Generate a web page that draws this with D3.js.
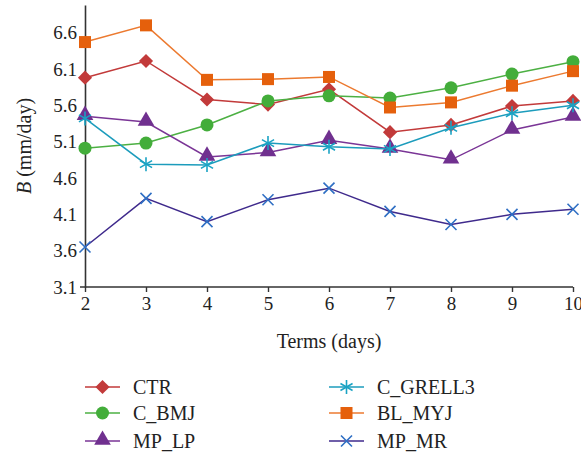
<!DOCTYPE html>
<html>
<head>
<meta charset="utf-8">
<script src="https://cdn.jsdelivr.net/npm/d3@7"></script>
<style>
  body { margin: 0; background: #fff; }
  text { font-family: "Liberation Serif", "DejaVu Serif", serif; fill: #222; }
</style>
</head>
<body>
<svg id="chart" width="581" height="453"></svg>
<script>
var terms = [2, 3, 4, 5, 6, 7, 8, 9, 10];
var yTicks = [3.1, 3.6, 4.1, 4.6, 5.1, 5.6, 6.1, 6.6];

var ctr     = [5.98, 6.21, 5.68, 5.61, 5.82, 5.23, 5.33, 5.59, 5.66];
var cBmj    = [5.01, 5.08, 5.33, 5.66, 5.73, 5.70, 5.84, 6.03, 6.20];
var mpLp    = [5.45, 5.37, 4.89, 4.95, 5.12, 5.00, 4.85, 5.26, 5.44];
var cGrell3 = [5.42, 4.79, 4.78, 5.08, 5.03, 5.00, 5.29, 5.49, 5.60];
var blMyj   = [6.47, 6.70, 5.95, 5.96, 5.99, 5.57, 5.64, 5.87, 6.07];
var mpMr    = [3.65, 4.32, 4.00, 4.30, 4.46, 4.14, 3.96, 4.10, 4.17];

var series = [
  { name: "CTR",      values: ctr,     line: "#c23a3a", fill: "#c23a3a", shape: "diamond",  col: 0, row: 0 },
  { name: "C_BMJ",    values: cBmj,    line: "#4cb043", fill: "#43ad3a", shape: "circle",   col: 0, row: 1 },
  { name: "MP_LP",    values: mpLp,    line: "#7a3596", fill: "#70308f", shape: "triangle", col: 0, row: 2 },
  { name: "C_GRELL3", values: cGrell3, line: "#1c9cbc", fill: "#1aa3c4", shape: "asterisk", col: 1, row: 0 },
  { name: "BL_MYJ",   values: blMyj,   line: "#ec7a30", fill: "#e5600c", shape: "square",   col: 1, row: 1 },
  { name: "MP_MR",    values: mpMr,    line: "#3f2a8c", fill: "#2f6fc4", shape: "cross",    col: 1, row: 2 }
];

var svg = d3.select("#chart");
var mLeft = 85, mRight = 573, mTop = 5, mBottom = 287;
var fs = "19px", fsBig = "20px";

var x = d3.scaleLinear().domain([2, 10]).range([mLeft, mRight]);
var y = d3.scaleLinear().domain([3.1, 6.98]).range([mBottom, mTop]);

// axes
var xAxis = svg.append("g").attr("transform", "translate(0," + mBottom + ")")
  .call(d3.axisBottom(x).tickValues(terms).tickSize(5).tickSizeOuter(0).tickPadding(5));
xAxis.select(".domain").attr("d", "M" + (mLeft - 5) + ",0H" + mRight);
var yAxis = svg.append("g").attr("transform", "translate(" + mLeft + ",0)")
  .call(d3.axisLeft(y).tickValues(yTicks).tickFormat(d3.format(".1f")).tickSize(0).tickSizeOuter(0).tickPadding(8));
svg.selectAll(".domain").attr("stroke", "#333").attr("stroke-width", 1.6);
svg.selectAll(".tick line").attr("stroke", "#333").attr("stroke-width", 1.4);
svg.selectAll(".tick text").style("font-size", fs).style("font-family", "Liberation Serif").attr("fill", "#222");

svg.append("text").attr("x", 329).attr("y", 348).attr("text-anchor", "middle")
  .style("font-size", fsBig).text("Terms (days)");
var yl = svg.append("text").attr("transform", "translate(31,146) rotate(-90)")
  .attr("text-anchor", "middle").style("font-size", fsBig);
yl.append("tspan").style("font-style", "italic").text("B");
yl.append("tspan").text(" (mm/day)");

function marker(g, shape, cx, cy, s) {
  if (shape === "diamond") {
    g.append("rect").attr("x", -5).attr("y", -5).attr("width", 10).attr("height", 10)
      .attr("transform", "translate(" + cx + "," + cy + ") rotate(45)").attr("fill", s.fill);
  } else if (shape === "circle") {
    g.append("circle").attr("cx", cx).attr("cy", cy).attr("r", 6.5).attr("fill", s.fill);
  } else if (shape === "triangle") {
    g.append("path").attr("d", d3.symbol(d3.symbolTriangle, 120)()).attr("transform", "translate(" + cx + "," + (cy - 1) + ")")
      .attr("fill", s.fill);
  } else if (shape === "square") {
    g.append("rect").attr("x", cx - 6).attr("y", cy - 6).attr("width", 12).attr("height", 12).attr("fill", s.fill);
  } else if (shape === "asterisk") {
    var r = 7;
    [0, 60, 120].forEach(function (a) {
      var rad = a * Math.PI / 180;
      g.append("line").attr("x1", cx - r * Math.sin(rad)).attr("y1", cy - r * Math.cos(rad))
        .attr("x2", cx + r * Math.sin(rad)).attr("y2", cy + r * Math.cos(rad))
        .attr("stroke", s.fill).attr("stroke-width", 1.6);
    });
  } else if (shape === "cross") {
    var c = 5.5;
    g.append("path").attr("d", "M" + (cx - c) + "," + (cy - c) + "L" + (cx + c) + "," + (cy + c) +
      "M" + (cx - c) + "," + (cy + c) + "L" + (cx + c) + "," + (cy - c))
      .attr("stroke", s.fill).attr("stroke-width", 1.6).attr("fill", "none");
  }
}

var line = d3.line().x(function (d, i) { return x(terms[i]); }).y(function (d) { return y(d); });

series.forEach(function (s) {
  var g = svg.append("g");
  g.append("path").datum(s.values).attr("d", line).attr("fill", "none")
    .attr("stroke", s.line).attr("stroke-width", 1.5);
  s.values.forEach(function (v, i) { marker(g, s.shape, x(terms[i]), y(v), s); });
});

// legend
var legX = [85, 329], legY = [387, 413, 441];
series.forEach(function (s) {
  var g = svg.append("g");
  var lx = legX[s.col], ly = legY[s.row];
  g.append("line").attr("x1", lx).attr("x2", lx + 35).attr("y1", ly).attr("y2", ly)
    .attr("stroke", s.line).attr("stroke-width", 1.5);
  marker(g, s.shape, lx + 17.5, ly, s);
  g.append("text").attr("x", lx + 48).attr("y", ly + 7).style("font-size", fsBig).text(s.name);
});
</script>
</body>
</html>
